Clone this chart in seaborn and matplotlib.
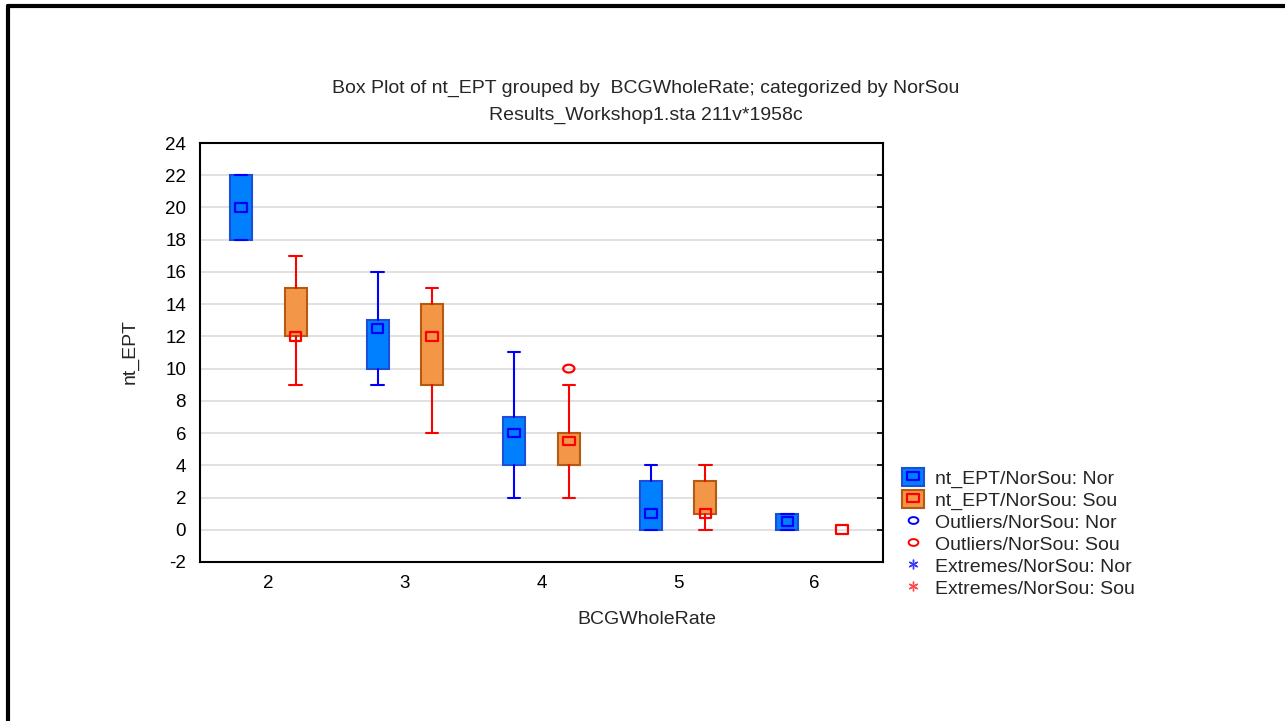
import numpy as np
import pandas as pd
import matplotlib
matplotlib.use("Agg")
import matplotlib.pyplot as plt
import seaborn as sns
from matplotlib.patches import Patch
from matplotlib.lines import Line2D
from matplotlib.path import Path

# BCGWholeRate categories
groups = [2, 3, 4, 5, 6]

# nt_EPT summaries, NorSou = Nor
nor_q1 = [18, 10, 4, 0, 0]
nor_q3 = [22, 13, 7, 3, 1]
nor_med = [20, 12.5, 6, 1, 0.5]
nor_lo = [18, 9, 2, 0, 0]
nor_hi = [22, 16, 11, 4, 1]

# nt_EPT summaries, NorSou = Sou
sou_q1 = [12, 9, 4, 1, 0]
sou_q3 = [15, 14, 6, 3, 0]
sou_med = [12, 12, 5.5, 1, 0]
sou_lo = [9, 6, 2, 0, 0]
sou_hi = [17, 15, 9, 4, 0]

# outliers (group, value)
sou_out_grp = [4]
sou_out_val = [10]

yticks = list(range(-2, 25, 2))

sns.set_style("white")
plt.rcParams["font.family"] = ["Liberation Sans", "DejaVu Sans"]
plt.rcParams["axes.unicode_minus"] = False

fig = plt.figure(figsize=(12.85, 7.21), dpi=100)
ax = fig.add_axes([200 / 1285, 1 - 562 / 721, 683 / 1285, 419 / 721])

offset = 0.2
width = 0.16
fs = 14

# wide rectangle / oval markers (the original picture is stretched sideways)
wide_sq = Path([(-1, -0.75), (1, -0.75), (1, 0.75), (-1, 0.75), (-1, -0.75)],
               closed=True)
t = np.linspace(0, 2 * np.pi, 40)
wide_oval = Path(np.column_stack([np.cos(t), 0.7 * np.sin(t)]), closed=True)

def stats(q1, q3, med, lo, hi):
    out = []
    for a, b, m, l, h in zip(q1, q3, med, lo, hi):
        out.append(dict(q1=a, q3=b, med=m, whislo=l, whishi=h, fliers=[]))
    return out

series = [
    ("Nor", -offset, stats(nor_q1, nor_q3, nor_med, nor_lo, nor_hi),
     "#0080ff", "#1c4fd6", "#0000ff"),
    ("Sou", offset, stats(sou_q1, sou_q3, sou_med, sou_lo, sou_hi),
     "#f49648", "#b55a12", "#ff0000"),
]

for name, off, st, fill, edge, wcol in series:
    keep = [i for i, s in enumerate(st) if s["q3"] > s["q1"]]
    pos = [groups[i] + off for i in keep]
    ax.bxp([st[i] for i in keep], positions=pos, widths=width,
           patch_artist=True, showfliers=False, manage_ticks=False,
           boxprops=dict(facecolor=fill, edgecolor=edge, linewidth=1.5),
           whiskerprops=dict(color=wcol, linewidth=1.5),
           capprops=dict(color=wcol, linewidth=1.5),
           medianprops=dict(linewidth=0), capwidths=0.09, zorder=3)

med_df = pd.DataFrame({
    "x": [g - offset for g in groups] + [g + offset for g in groups],
    "y": nor_med + sou_med,
    "NorSou": ["Nor"] * len(groups) + ["Sou"] * len(groups),
})
for name, col in [("Nor", "#0000ff"), ("Sou", "#ff0000")]:
    d = med_df[med_df["NorSou"] == name]
    sns.scatterplot(data=d, x="x", y="y", marker=wide_sq, s=70,
                    facecolor="none", edgecolor=col, linewidth=1.6,
                    ax=ax, zorder=5, legend=False)

out_df = pd.DataFrame({"x": [g + offset for g in sou_out_grp], "y": sou_out_val})
sns.scatterplot(data=out_df, x="x", y="y", marker=wide_oval, s=65,
                facecolor="none", edgecolor="#ff0000", linewidth=1.6,
                ax=ax, zorder=5, legend=False)

ax.set_xlim(1.5, 6.5)
ax.set_ylim(-2, 24)
ax.set_xticks(groups)
ax.set_yticks(yticks)
ax.yaxis.grid(True, color="#dcdcdc", linewidth=1.2)
ax.set_axisbelow(True)
ax.tick_params(axis="both", direction="in", length=4, width=1.2,
               labelsize=13.5, colors="black")
ax.tick_params(axis="y", right=True, pad=10)
ax.tick_params(axis="x", pad=9)
for sp in ax.spines.values():
    sp.set_color("black")
    sp.set_linewidth(1.5)
ax.set_xlabel("")
ax.set_ylabel("")

fig.text(130 / 1285, 1 - 352 / 721, "nt_EPT", rotation=90, ha="center",
         va="center", fontsize=fs)
fig.text(647 / 1285, 1 - 620 / 721, "BCGWholeRate", ha="center",
         va="center", fontsize=fs)
fig.text(646 / 1285, 1 - 88 / 721,
         "Box Plot of nt_EPT grouped by  BCGWholeRate; categorized by NorSou",
         ha="center", va="center", fontsize=fs)
fig.text(646 / 1285, 1 - 115 / 721, "Results_Workshop1.sta 211v*1958c",
         ha="center", va="center", fontsize=fs)

# outer frame
fig.add_artist(Line2D([8 / 1285, 8 / 1285], [0, 1 - 6 / 721],
                      transform=fig.transFigure, color="black", linewidth=3))
fig.add_artist(Line2D([8 / 1285, 1], [1 - 6 / 721, 1 - 6 / 721],
                      transform=fig.transFigure, color="black", linewidth=3))

handles = [
    (Patch(facecolor="#0080ff", edgecolor="#1c4fd6", linewidth=1.5),
     Line2D([], [], marker=wide_sq, linestyle="none", markerfacecolor="none",
            markeredgecolor="#0000ff", markersize=8, markeredgewidth=1.6)),
    (Patch(facecolor="#f49648", edgecolor="#b55a12", linewidth=1.5),
     Line2D([], [], marker=wide_sq, linestyle="none", markerfacecolor="none",
            markeredgecolor="#ff0000", markersize=8, markeredgewidth=1.6)),
    Line2D([], [], marker=wide_oval, linestyle="none", markerfacecolor="none",
           markeredgecolor="#0000ff", markersize=7, markeredgewidth=1.4),
    Line2D([], [], marker=wide_oval, linestyle="none", markerfacecolor="none",
           markeredgecolor="#ff0000", markersize=7, markeredgewidth=1.4),
    Line2D([], [], marker=(6, 2, 0), linestyle="none",
           markeredgecolor="#3a3aff", markersize=7, markeredgewidth=1),
    Line2D([], [], marker=(6, 2, 0), linestyle="none",
           markeredgecolor="#ff4a4a", markersize=7, markeredgewidth=1),
]
labels = ["nt_EPT/NorSou: Nor", "nt_EPT/NorSou: Sou",
          "Outliers/NorSou: Nor", "Outliers/NorSou: Sou",
          "Extremes/NorSou: Nor", "Extremes/NorSou: Sou"]
fig.legend(handles, labels, loc="upper left",
           bbox_to_anchor=(902 / 1285, 1 - 468 / 721), frameon=False,
           fontsize=fs, handlelength=1.15, handleheight=1.05,
           handletextpad=0.55, labelspacing=0.12, borderaxespad=0,
           borderpad=0)

fig.savefig("out.png", dpi=100)
